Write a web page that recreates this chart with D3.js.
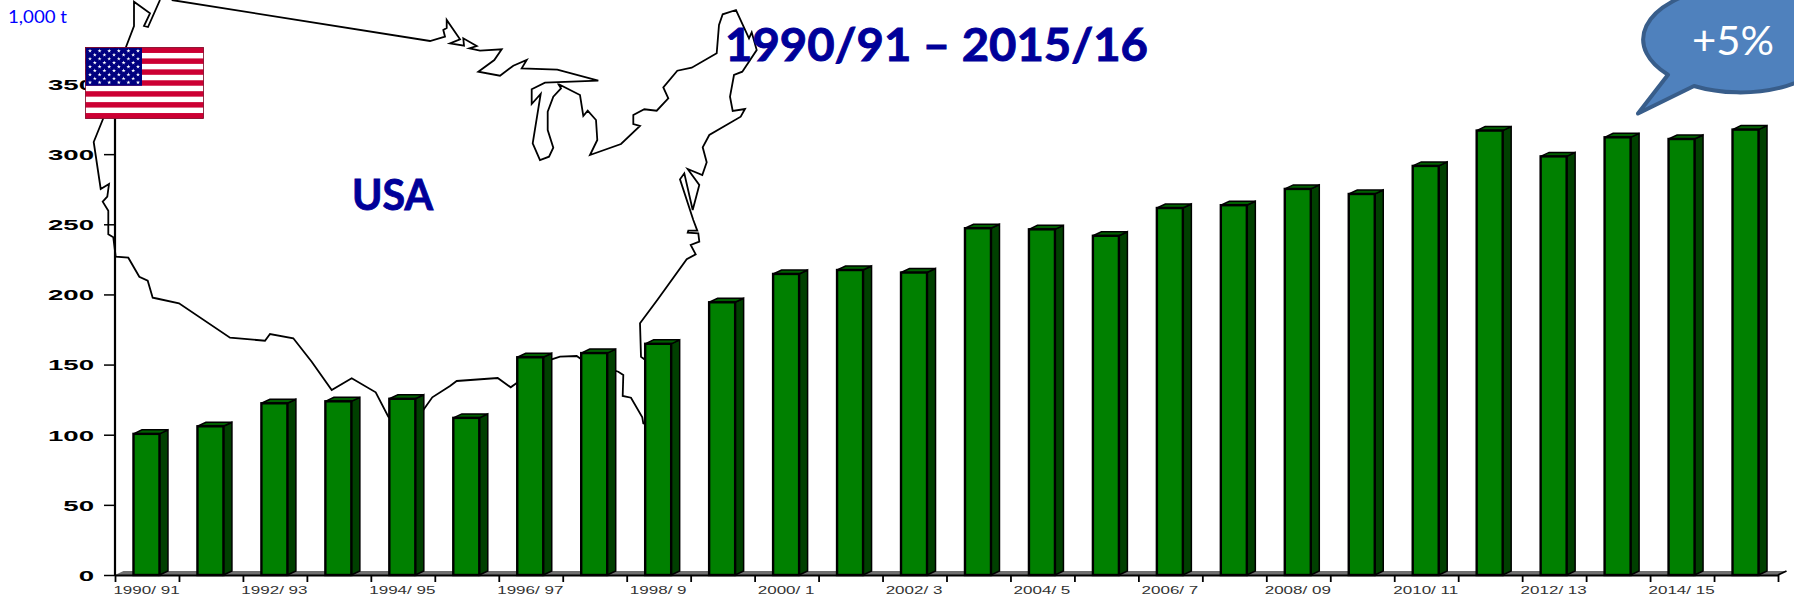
<!DOCTYPE html>
<html>
<head>
<meta charset="utf-8">
<script src="https://cdn.jsdelivr.net/npm/d3@7"></script>
<style>
  html, body { margin: 0; padding: 0; background: #fff; overflow: hidden; }
  svg { display: block; }
  .headline { font-family: Lato, sans-serif; font-weight: 700; fill: #000099; stroke: #000099; stroke-width: 0.9; }
  .axis text { font-family: "Liberation Sans", Arial, sans-serif; fill: #000; }
</style>
</head>
<body>
<svg id="chart" width="1794" height="599"></svg>
<script>
// production, 1,000 t
const seasons = ['1990/91','1991/92','1992/93','1993/94','1994/95','1995/96','1996/97','1997/98','1998/9','1999/0',
  '2000/1','2001/2','2002/3','2003/4','2004/5','2005/6','2006/7','2007/8','2008/09','2009/10',
  '2010/11','2011/12','2012/13','2013/14','2014/15','2015/16'];
const values = [100.6, 106, 122.4, 123.8, 125.6, 112, 155.2, 158.2, 164.8, 194.4,
  214.6, 217.4, 215.6, 247.2, 246.4, 241.8, 261.6, 263.6, 275.2, 271.6,
  291.6, 316.8, 298.4, 312, 310.8, 317.5];
const yTicks = [0, 50, 100, 150, 200, 250, 300, 350];
const xLabelled = ['1990/91','1992/93','1994/95','1996/97','1998/9','2000/1','2002/3','2004/5','2006/7','2008/09','2010/11','2012/13','2014/15'];

// backdrop outline of the country, traced in page pixels, it is not data
const usaOutline = [[171.7,0],[430,41],[445,36.7],[443.3,30],[446.7,28],[446.7,20],[460,39.3],[450,43.3],[464,45.7],[463.3,38.3],
  [476.7,46],[469.3,48.3],[480,50.7],[501.7,49.3],[494.3,60],[478.3,71.7],[500,75.7],[513.3,65.7],[526.7,60],[521.7,68.3],
  [557.3,69.7],[598.3,80.7],[545,82.7],[531.7,89.3],[531.7,104],[540.7,94],[532.7,143.3],[540,160],[549,156.7],[553.3,147.7],
  [547.7,130],[547.7,111.7],[553.3,96.7],[561,88.3],[558.3,84],[580,95],[583.3,116],[587.7,110.7],[596,120],[597.3,140],
  [590,155],[621,144],[640,126],[633.3,124],[633.3,115],[644.3,109.3],[656.7,110.7],[668.3,98.3],[663.3,87.3],[677.3,70.7],
  [691.7,67.7],[716.7,53.3],[719,25],[722.7,14.3],[736,10],[749,38.3],[751.7,32.3],[756.7,50],[742.3,71.7],[734,75],
  [730,96.7],[732.7,111],[745,109],[740.7,116.7],[709.3,135],[702.7,147.3],[706.7,162.3],[702.3,175],[687.7,169],[699.3,185],
  [692.7,210],[684.3,173.3],[680,179.3],[693.3,220],[697.3,230.7],[688.3,230.7],[687.7,232.7],[698.3,233.3],[699.3,241.7],[690.7,245],
  [695.7,254.3],[686.7,259.3],[657.3,300],[640,323.3],[641,356.7],[648,362],[648,425],[643.3,423.3],[642.3,417.3],[631,397.7],
  [622.7,396],[623.3,375],[618.3,371.7],[582.3,360],[576.7,356],[560,356.7],[551.7,359.3],[516.7,383],[510.7,387.3],[497.7,378],
  [456.7,381],[450,386],[432.3,397.3],[423.3,410],[392,420],[388.3,416.7],[375.7,392.3],[351.7,378.3],[331.7,390],[311.7,361.7],[293.3,338.3],
  [270,334],[265,340.7],[230,337.7],[179,303.3],[156.7,298.5],[152.7,297.7],[147.7,280.7],[139.3,276.7],[128.3,257.7],[115.7,256.7],
  [113.3,237.3],[108.3,234.3],[108.3,210.7],[102.7,201.7],[107.3,196.7],[109,184],[100.7,189],[93.7,142],[103,119],[126,47],
  [134,26],[134,1.7],[150,13.3],[144,26],[148,27],[160,0]];

const svg = d3.select('#chart');

const margin = { left: 115, right: 16, top: 0, bottom: 24 };
const innerWidth = 1794 - margin.left - margin.right;
const innerHeight = 599 - margin.bottom;

const xScale = d3.scaleBand().domain(seasons).range([0, innerWidth]);
const xEdges = d3.scaleLinear().domain([0, seasons.length]).range([0, innerWidth]);
const yScale = d3.scaleLinear().domain([0, 350]).range([innerHeight, 84]);

const barWidth = 26;
const depthX = 8.5;
const depthY = 4;

// tick labels in the original are stretched sideways
function stretch(sel, factor) {
  sel.each(function () {
    d3.select(this)
      .attr('textLength', this.getComputedTextLength() * factor)
      .attr('lengthAdjust', 'spacingAndGlyphs');
  });
}

// map sits behind everything in the plot
svg.append('path')
  .attr('d', d3.line()(usaOutline))
  .attr('fill', 'none')
  .attr('stroke', '#000')
  .attr('stroke-width', 1.8);

const chart = svg.append('g').attr('transform', `translate(${margin.left},0)`);

// grey floor of the 3d chart
chart.append('path')
  .attr('d', d3.line()([[0, innerHeight], [depthX, innerHeight - depthY], [innerWidth + depthX, innerHeight - depthY], [innerWidth, innerHeight]]))
  .attr('fill', '#707070');

// Y axis
const yAxisG = chart.append('g').attr('class', 'axis')
  .call(d3.axisLeft(yScale).tickValues(yTicks).tickSize(11).tickSizeOuter(0));
yAxisG.select('.domain').attr('stroke-width', 2.2).attr('d', `M0,${innerHeight}V${yScale(350) - 37}`);
yAxisG.selectAll('line').attr('stroke-width', 1.5);
yAxisG.selectAll('text')
  .attr('x', -21)
  .attr('dy', '0.36em')
  .attr('font-size', 15)
  .attr('font-weight', 700)
  .call(stretch, 1.84);

// X axis: tick marks on the band edges, labels on every other band
const xTicksG = chart.append('g').attr('class', 'axis')
  .attr('transform', `translate(0,${innerHeight})`)
  .call(d3.axisBottom(xEdges).tickValues(d3.range(seasons.length + 1)).tickFormat('').tickSize(7).tickSizeOuter(0));
xTicksG.select('.domain').attr('stroke-width', 2.2);
xTicksG.selectAll('line').attr('stroke-width', 1.8);
xTicksG.append('path')
  .attr('d', `M${innerWidth},0L${innerWidth + depthX},${-depthY}`)
  .attr('stroke', '#000')
  .attr('stroke-width', 1.8);

const xLabelsG = chart.append('g').attr('class', 'axis')
  .attr('transform', `translate(0,${innerHeight})`)
  .call(d3.axisBottom(xScale).tickValues(xLabelled).tickSize(0).tickFormat(d => d.replace('/', '/ ')));
xLabelsG.select('.domain').remove();
xLabelsG.selectAll('text')
  .attr('x', -0.5)
  .attr('y', 18.5)
  .attr('dy', 0)
  .attr('font-size', 10.5)
  .style('fill', '#333')
  .call(stretch, 1.62);

// bars
const bars = chart.selectAll('.bar')
  .data(seasons.map((s, i) => ({ season: s, value: values[i] })))
  .enter().append('g')
  .attr('class', 'bar')
  .attr('transform', d => `translate(${xScale(d.season) + (xScale.bandwidth() - barWidth) / 2 - 0.5},0)`);

bars.append('path') // side
  .attr('d', d => d3.line()([[barWidth, yScale(d.value)], [barWidth + depthX, yScale(d.value) - depthY], [barWidth + depthX, innerHeight - depthY], [barWidth, innerHeight]]) + 'Z')
  .attr('fill', '#004000')
  .attr('stroke', '#000')
  .attr('stroke-width', 1.5);

bars.append('path') // top
  .attr('d', d => d3.line()([[0, yScale(d.value)], [depthX, yScale(d.value) - depthY], [barWidth + depthX, yScale(d.value) - depthY], [barWidth, yScale(d.value)]]) + 'Z')
  .attr('fill', '#006000')
  .attr('stroke', '#000')
  .attr('stroke-width', 1.5);

bars.append('rect') // front
  .attr('x', 0)
  .attr('y', d => yScale(d.value))
  .attr('width', barWidth)
  .attr('height', d => innerHeight - yScale(d.value))
  .attr('fill', '#008000')
  .attr('stroke', '#000')
  .attr('stroke-width', 2.4);

// flag over the axis, top left
const flagW = 118, flagH = 71;
const flag = svg.append('g').attr('transform', 'translate(85.5,47.5)');
flag.append('rect').attr('width', flagW).attr('height', flagH).attr('fill', '#fff');
const stripeY = d3.scaleBand().domain(d3.range(13)).range([0, flagH]);
flag.selectAll('.stripe').data(d3.range(0, 13, 2)).enter().append('rect')
  .attr('class', 'stripe')
  .attr('y', d => stripeY(d))
  .attr('width', flagW)
  .attr('height', stripeY.bandwidth())
  .attr('fill', '#cc0033');
const cantonW = 56.5, cantonH = stripeY.step() * 7;
flag.append('rect').attr('width', cantonW).attr('height', cantonH).attr('fill', '#000080');
const starRows = d3.range(9);
starRows.forEach(r => {
  const count = r % 2 === 0 ? 6 : 5;
  const offset = r % 2 === 0 ? 0 : 0.5;
  flag.selectAll(`.star${r}`).data(d3.range(count)).enter().append('path')
    .attr('d', d3.symbol(d3.symbolStar, 5))
    .attr('fill', '#fff')
    .attr('transform', d => `translate(${4.5 + (d + offset) * 9.6},${3.4 + r * 3.95})`);
});
flag.append('rect').attr('width', flagW).attr('height', flagH).attr('fill', 'none').attr('stroke', '#7a0020').attr('stroke-width', 0.8);

// texts
svg.append('text')
  .attr('x', 8).attr('y', 23)
  .attr('font-family', 'Lato, sans-serif')
  .attr('font-size', 18)
  .attr('fill', '#0000ff')
  .attr('textLength', 59)
  .attr('lengthAdjust', 'spacingAndGlyphs')
  .text('1,000 t');

svg.append('text')
  .attr('class', 'headline')
  .attr('x', 725).attr('y', 61)
  .attr('font-size', 46)
  .attr('textLength', 423)
  .attr('lengthAdjust', 'spacingAndGlyphs')
  .text('1990/91 – 2015/16');

svg.append('text')
  .attr('class', 'headline')
  .attr('x', 352).attr('y', 210)
  .attr('font-size', 42)
  .attr('textLength', 81)
  .attr('lengthAdjust', 'spacingAndGlyphs')
  .text('USA');

// speech bubble, runs off the top right corner
svg.append('path')
  .attr('d', 'M1638,113.5L1668,74.8A97,53 0 1 1 1694,86Z')
  .attr('fill', '#4f81bd')
  .attr('stroke', '#385d8a')
  .attr('stroke-width', 4)
  .attr('stroke-linejoin', 'round');

svg.append('text')
  .attr('x', 1692).attr('y', 55)
  .attr('font-family', 'Lato, sans-serif')
  .attr('font-size', 40)
  .attr('fill', '#fff')
  .attr('textLength', 82)
  .attr('lengthAdjust', 'spacingAndGlyphs')
  .text('+5%');
</script>
</body>
</html>
